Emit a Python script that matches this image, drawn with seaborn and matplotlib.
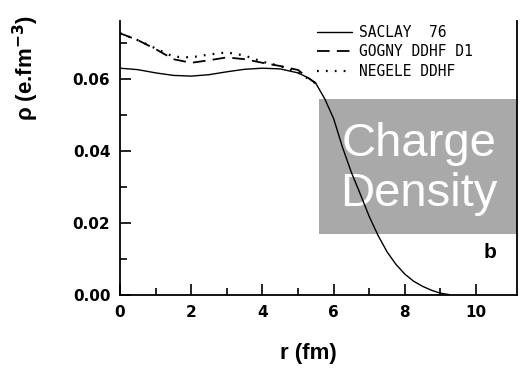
import matplotlib
matplotlib.use("Agg")
import matplotlib.pyplot as plt
import seaborn as sns
import pandas as pd
from matplotlib.patches import Rectangle
from matplotlib.ticker import MultipleLocator, FixedLocator

sns.set_style("ticks")
plt.rcParams['font.family'] = ['DejaVu Sans']
plt.rcParams['text.color'] = 'black'
plt.rcParams['axes.labelcolor'] = 'black'
plt.rcParams['xtick.color'] = 'black'
plt.rcParams['ytick.color'] = 'black'

# ---- data ----
r_saclay = [0, 0.5, 1, 1.5, 2, 2.5, 3, 3.5, 4, 4.5, 5, 5.25, 5.5, 5.75, 6, 6.25,
            6.5, 6.75, 7, 7.25, 7.5, 7.75, 8, 8.25, 8.5, 8.75, 9, 9.25]
rho_saclay = [0.0630, 0.0626, 0.0617, 0.0610, 0.0608, 0.0612, 0.0620, 0.0627,
              0.0630, 0.0628, 0.0617, 0.0605, 0.0588, 0.0545, 0.0490, 0.0410,
              0.0340, 0.0280, 0.0218, 0.0165, 0.0120, 0.0085, 0.0058, 0.0038,
              0.0024, 0.0013, 0.0005, 0.0001]

r_gogny = [0, 0.5, 1, 1.5, 2, 2.5, 3, 3.5, 4, 4.5, 5, 5.25, 5.5]
rho_gogny = [0.0727, 0.0708, 0.0683, 0.0655, 0.0645, 0.0652, 0.0660, 0.0655,
             0.0645, 0.0636, 0.0625, 0.0606, 0.0588]

r_negele = [0, 0.5, 1, 1.5, 2, 2.5, 3, 3.5, 4, 4.5, 5, 5.25, 5.5]
rho_negele = [0.0727, 0.0708, 0.0685, 0.0662, 0.0660, 0.0668, 0.0674, 0.0665,
              0.0648, 0.0636, 0.0618, 0.0603, 0.0588]

labels = ["SACLAY  76", "GOGNY DDHF D1", "NEGELE DDHF"]
x_ticks = [0, 2, 4, 6, 8, 10]
x_minor = [1, 3, 5, 7, 9]
y_ticks = [0.00, 0.02, 0.04, 0.06]

df_s = pd.DataFrame({"r": r_saclay, "rho": rho_saclay})
df_g = pd.DataFrame({"r": r_gogny, "rho": rho_gogny})
df_n = pd.DataFrame({"r": r_negele, "rho": rho_negele})

fig = plt.figure(figsize=(5.29, 3.69), dpi=100)
ax = fig.add_axes([120/529, 1 - 295/369, 397/529, (295 - 21.4)/369])

sns.lineplot(data=df_s, x="r", y="rho", ax=ax, color="black", lw=1.0, zorder=5)
sns.lineplot(data=df_g, x="r", y="rho", ax=ax, color="black", lw=1.3, zorder=5)
sns.lineplot(data=df_n, x="r", y="rho", ax=ax, color="black", lw=1.6, zorder=5)
lines = ax.get_lines()
lines[1].set_linestyle((0, (7, 4)))
lines[2].set_linestyle((0, (0.8, 3.2)))

ax.set_xlim(0, 11.15)
ax.set_ylim(0, 0.076)
ax.xaxis.set_major_locator(FixedLocator(x_ticks))
ax.xaxis.set_minor_locator(FixedLocator(x_minor))
ax.yaxis.set_major_locator(FixedLocator(y_ticks))
ax.yaxis.set_minor_locator(MultipleLocator(0.01))
ax.set_xticklabels([str(t) for t in x_ticks])
ax.set_yticklabels([f"{t:.2f}" for t in y_ticks])

ax.spines["top"].set_visible(False)
for s in ["left", "right", "bottom"]:
    ax.spines[s].set_linewidth(1.3)
    ax.spines[s].set_color("black")

ax.tick_params(axis="both", which="major", direction="in", length=8, width=1.2,
               labelsize=11, pad=7, colors="black")
ax.tick_params(axis="both", which="minor", direction="in", length=5, width=1.2)
ax.tick_params(axis="y", which="both", right=False)
for lab in ax.get_xticklabels() + ax.get_yticklabels():
    lab.set_fontweight("bold")

ax.set_xlabel("r (fm)", fontsize=16, fontweight="bold", family="Liberation Sans")
ax.xaxis.set_label_coords(0.475, -0.175)
ax.set_ylabel("ρ (e.fm$^{\\mathbf{-3}}$)", fontsize=16, fontweight="bold",
              family="Liberation Sans")
ax.yaxis.set_label_coords(-0.20, 0.83)

# grey box overlay
rect = Rectangle((319/529, 1 - 234/369), 198/529, 135/369,
                 transform=fig.transFigure, facecolor="#a9a9a9",
                 edgecolor="none", clip_on=False, zorder=2)
ax.add_patch(rect)
ax.text(419/529, 1 - 169/369, "Charge\nDensity", transform=fig.transFigure,
        ha="center", va="center", color="white", fontsize=34,
        family="Liberation Sans", linespacing=1.2, zorder=3)

ax.text(490/529, 1 - 252/369, "b", transform=fig.transFigure, ha="center",
        va="center", fontsize=15, fontweight="bold", family="Liberation Sans")

leg = ax.legend(lines, labels, loc="upper left",
                bbox_to_anchor=(317/529, 1 - 25/369), bbox_transform=fig.transFigure,
                frameon=False, borderpad=0, borderaxespad=0, handlelength=2.4,
                handletextpad=0.45, labelspacing=0.3,
                prop={"family": "DejaVu Sans Mono", "size": 10.5})

fig.savefig("out.png", dpi=100)
